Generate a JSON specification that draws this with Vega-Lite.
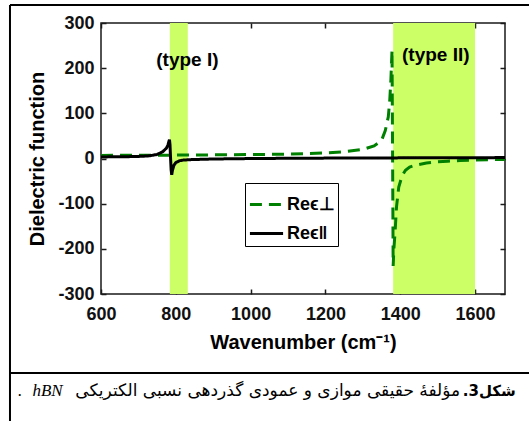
{
  "$schema": "https://vega.github.io/schema/vega-lite/v6.json",
  "width": 404,
  "height": 271,
  "autosize": {"type": "none"},
  "padding": {"left": 101, "top": 23, "right": 24, "bottom": 127},
  "background": "white",
  "config": {
    "view": {"stroke": "#1a1a1a", "strokeWidth": 1.5},
    "font": "Liberation Sans",
    "axis": {
      "labelFont": "Liberation Sans", "labelFontWeight": "bold", "labelFontSize": 18, "labelColor": "#111",
      "titleFont": "Liberation Sans", "titleFontWeight": "bold", "titleFontSize": 20, "titleColor": "#000",
      "grid": false, "domain": false, "tickColor": "#1a1a1a", "tickSize": 5, "tickWidth": 1.5, "offset": -5,
      "labelFlush": false, "labelOverlap": false, "labelExpr": "'' + datum.value"
    },
    "legend": {
      "orient": "none", "legendX": 144, "legendY": 160,
      "strokeColor": "#000", "padding": 3,
      "labelFont": "Liberation Sans", "labelFontSize": 18, "labelFontWeight": "bold", "labelColor": "#000",
      "symbolType": "stroke", "symbolStrokeWidth": 3, "symbolSize": 1100, "labelOffset": 2, "rowPadding": 1
    }
  },
  "datasets": {
    "bands": [
      {"name": "type I", "start": 784, "end": 832},
      {"name": "type II", "start": 1381, "end": 1600}
    ],
    "curves": [
      {"series": "Reϵ⊥", "wavenumber": 600, "value": 6.9},
      {"series": "Reϵ⊥", "wavenumber": 700, "value": 7.2},
      {"series": "Reϵ⊥", "wavenumber": 800, "value": 7.5},
      {"series": "Reϵ⊥", "wavenumber": 900, "value": 8.0},
      {"series": "Reϵ⊥", "wavenumber": 1000, "value": 8.7},
      {"series": "Reϵ⊥", "wavenumber": 1100, "value": 9.8},
      {"series": "Reϵ⊥", "wavenumber": 1200, "value": 12.2},
      {"series": "Reϵ⊥", "wavenumber": 1250, "value": 15},
      {"series": "Reϵ⊥", "wavenumber": 1300, "value": 20},
      {"series": "Reϵ⊥", "wavenumber": 1330, "value": 28},
      {"series": "Reϵ⊥", "wavenumber": 1350, "value": 40},
      {"series": "Reϵ⊥", "wavenumber": 1360, "value": 62},
      {"series": "Reϵ⊥", "wavenumber": 1368, "value": 92},
      {"series": "Reϵ⊥", "wavenumber": 1372, "value": 130},
      {"series": "Reϵ⊥", "wavenumber": 1375, "value": 175},
      {"series": "Reϵ⊥", "wavenumber": 1378, "value": 240},
      {"series": "Reϵ⊥", "wavenumber": 1381, "value": -238},
      {"series": "Reϵ⊥", "wavenumber": 1383, "value": -200},
      {"series": "Reϵ⊥", "wavenumber": 1386, "value": -165},
      {"series": "Reϵ⊥", "wavenumber": 1390, "value": -107},
      {"series": "Reϵ⊥", "wavenumber": 1396, "value": -63},
      {"series": "Reϵ⊥", "wavenumber": 1405, "value": -38},
      {"series": "Reϵ⊥", "wavenumber": 1414, "value": -26},
      {"series": "Reϵ⊥", "wavenumber": 1425, "value": -19},
      {"series": "Reϵ⊥", "wavenumber": 1440, "value": -15},
      {"series": "Reϵ⊥", "wavenumber": 1470, "value": -10},
      {"series": "Reϵ⊥", "wavenumber": 1500, "value": -7.5},
      {"series": "Reϵ⊥", "wavenumber": 1527, "value": -6},
      {"series": "Reϵ⊥", "wavenumber": 1560, "value": -4.5},
      {"series": "Reϵ⊥", "wavenumber": 1600, "value": -3.5},
      {"series": "Reϵ⊥", "wavenumber": 1640, "value": -2.5},
      {"series": "Reϵ⊥", "wavenumber": 1680, "value": -2},
      {"series": "Reϵ‖", "wavenumber": 600, "value": 3.5},
      {"series": "Reϵ‖", "wavenumber": 650, "value": 3.8},
      {"series": "Reϵ‖", "wavenumber": 700, "value": 4.5},
      {"series": "Reϵ‖", "wavenumber": 730, "value": 6},
      {"series": "Reϵ‖", "wavenumber": 750, "value": 9},
      {"series": "Reϵ‖", "wavenumber": 765, "value": 15},
      {"series": "Reϵ‖", "wavenumber": 775, "value": 23},
      {"series": "Reϵ‖", "wavenumber": 779, "value": 30},
      {"series": "Reϵ‖", "wavenumber": 781, "value": 36},
      {"series": "Reϵ‖", "wavenumber": 783, "value": 42},
      {"series": "Reϵ‖", "wavenumber": 784.5, "value": 30},
      {"series": "Reϵ‖", "wavenumber": 786, "value": 0},
      {"series": "Reϵ‖", "wavenumber": 787.5, "value": -25},
      {"series": "Reϵ‖", "wavenumber": 789, "value": -36},
      {"series": "Reϵ‖", "wavenumber": 791, "value": -26},
      {"series": "Reϵ‖", "wavenumber": 795, "value": -15},
      {"series": "Reϵ‖", "wavenumber": 800, "value": -9},
      {"series": "Reϵ‖", "wavenumber": 810, "value": -5},
      {"series": "Reϵ‖", "wavenumber": 820, "value": -3.5},
      {"series": "Reϵ‖", "wavenumber": 840, "value": -2.5},
      {"series": "Reϵ‖", "wavenumber": 880, "value": -1.5},
      {"series": "Reϵ‖", "wavenumber": 950, "value": -0.5},
      {"series": "Reϵ‖", "wavenumber": 1100, "value": 0.5},
      {"series": "Reϵ‖", "wavenumber": 1300, "value": 1.2},
      {"series": "Reϵ‖", "wavenumber": 1500, "value": 1.6},
      {"series": "Reϵ‖", "wavenumber": 1680, "value": 2}
    ],
    "labels": [
      {"text": "(type I)", "wavenumber": 831, "value": 218},
      {"text": "(type II)", "wavenumber": 1495, "value": 229}
    ],
    "frame": [
      {"x1": 356.7, "x2": 1760, "y1": 339.9, "y2": 339.9},
      {"x1": 356.7, "x2": 356.7, "y1": 339.9, "y2": -600},
      {"x1": 356.7, "x2": 1760, "y1": -474.9, "y2": -474.9}
    ],
    "captionBold": [{"text": ".3شکل", "wavenumber": 1709, "value": -515}],
    "captionMain": [{"text": "مؤلفهٔ حقیقی موازی و عمودی گذردهی نسبی الکتریکی", "wavenumber": 1560, "value": -515}],
    "captionLatin": [
      {"text": "hBN", "wavenumber": 457, "value": -515},
      {"text": ".", "wavenumber": 384, "value": -515}
    ]
  },
  "layer": [
    {
      "data": {"name": "bands"},
      "mark": {"type": "rect", "color": "#ccff66"},
      "encoding": {
        "x": {"field": "start", "type": "quantitative", "scale": {"domain": [600, 1680], "nice": false, "zero": false}, "axis": null},
        "x2": {"field": "end"}
      }
    },
    {
      "data": {"name": "curves"},
      "mark": {"type": "line", "strokeWidth": 3},
      "encoding": {
        "x": {"field": "wavenumber", "type": "quantitative", "scale": {"domain": [600, 1680], "nice": false, "zero": false},
              "axis": {"values": [600, 800, 1000, 1200, 1400, 1600], "title": "Wavenumber (cm⁻¹)", "labelPadding": 11, "titlePadding": 9}},
        "y": {"field": "value", "type": "quantitative", "scale": {"domain": [-300, 300], "nice": false, "zero": false},
              "axis": {"values": [-300, -200, -100, 0, 100, 200, 300], "title": "Dielectric function", "labelPadding": 7, "titlePadding": 10}},
        "color": {"field": "series", "type": "nominal", "scale": {"domain": ["Reϵ⊥", "Reϵ‖"], "range": ["#008000", "#000000"]}, "legend": {"title": null}},
        "strokeDash": {"field": "series", "type": "nominal", "scale": {"domain": ["Reϵ⊥", "Reϵ‖"], "range": [[12, 7], [1, 0]]}, "legend": {"title": null}}
      }
    },
    {
      "data": {"name": "curves"},
      "mark": {"type": "point", "opacity": 0},
      "encoding": {
        "x": {"field": "wavenumber", "type": "quantitative", "scale": {"domain": [600, 1680], "nice": false, "zero": false},
              "axis": {"orient": "top", "values": [600, 800, 1000, 1200, 1400, 1600], "labels": false, "title": null}},
        "y": {"field": "value", "type": "quantitative", "scale": {"domain": [-300, 300], "nice": false, "zero": false},
              "axis": {"orient": "right", "values": [-300, -200, -100, 0, 100, 200, 300], "labels": false, "title": null}}
      }
    },
    {
      "data": {"name": "labels"},
      "mark": {"type": "text", "font": "Liberation Sans", "fontWeight": "bold", "fontSize": 19, "color": "#000", "align": "center", "baseline": "middle"},
      "encoding": {
        "x": {"field": "wavenumber", "type": "quantitative", "scale": {"domain": [600, 1680], "nice": false, "zero": false}, "axis": null},
        "y": {"field": "value", "type": "quantitative", "scale": {"domain": [-300, 300], "nice": false, "zero": false}, "axis": null},
        "text": {"field": "text"}
      }
    },
    {
      "data": {"name": "frame"},
      "mark": {"type": "rule", "color": "#000", "strokeWidth": 2, "clip": false},
      "encoding": {
        "x": {"field": "x1", "type": "quantitative", "scale": {"domain": [600, 1680], "nice": false, "zero": false}, "axis": null},
        "x2": {"field": "x2"},
        "y": {"field": "y1", "type": "quantitative", "scale": {"domain": [-300, 300], "nice": false, "zero": false}, "axis": null},
        "y2": {"field": "y2"}
      }
    },
    {
      "data": {"name": "captionBold"},
      "mark": {"type": "text", "font": "DejaVu Sans", "fontWeight": "bold", "fontSize": 15, "color": "#000", "align": "right", "baseline": "middle", "clip": false},
      "encoding": {
        "x": {"field": "wavenumber", "type": "quantitative", "scale": {"domain": [600, 1680], "nice": false, "zero": false}, "axis": null},
        "y": {"field": "value", "type": "quantitative", "scale": {"domain": [-300, 300], "nice": false, "zero": false}, "axis": null},
        "text": {"field": "text"}
      }
    },
    {
      "data": {"name": "captionMain"},
      "mark": {"type": "text", "font": "DejaVu Sans", "fontSize": 17, "color": "#000", "align": "right", "baseline": "middle", "clip": false},
      "encoding": {
        "x": {"field": "wavenumber", "type": "quantitative", "scale": {"domain": [600, 1680], "nice": false, "zero": false}, "axis": null},
        "y": {"field": "value", "type": "quantitative", "scale": {"domain": [-300, 300], "nice": false, "zero": false}, "axis": null},
        "text": {"field": "text"}
      }
    },
    {
      "data": {"name": "captionLatin"},
      "mark": {"type": "text", "font": "Liberation Serif", "fontStyle": "italic", "fontSize": 17, "color": "#000", "align": "center", "baseline": "middle", "clip": false},
      "encoding": {
        "x": {"field": "wavenumber", "type": "quantitative", "scale": {"domain": [600, 1680], "nice": false, "zero": false}, "axis": null},
        "y": {"field": "value", "type": "quantitative", "scale": {"domain": [-300, 300], "nice": false, "zero": false}, "axis": null},
        "text": {"field": "text"}
      }
    }
  ],
  "resolve": {"axis": {"x": "independent", "y": "independent"}}
}
